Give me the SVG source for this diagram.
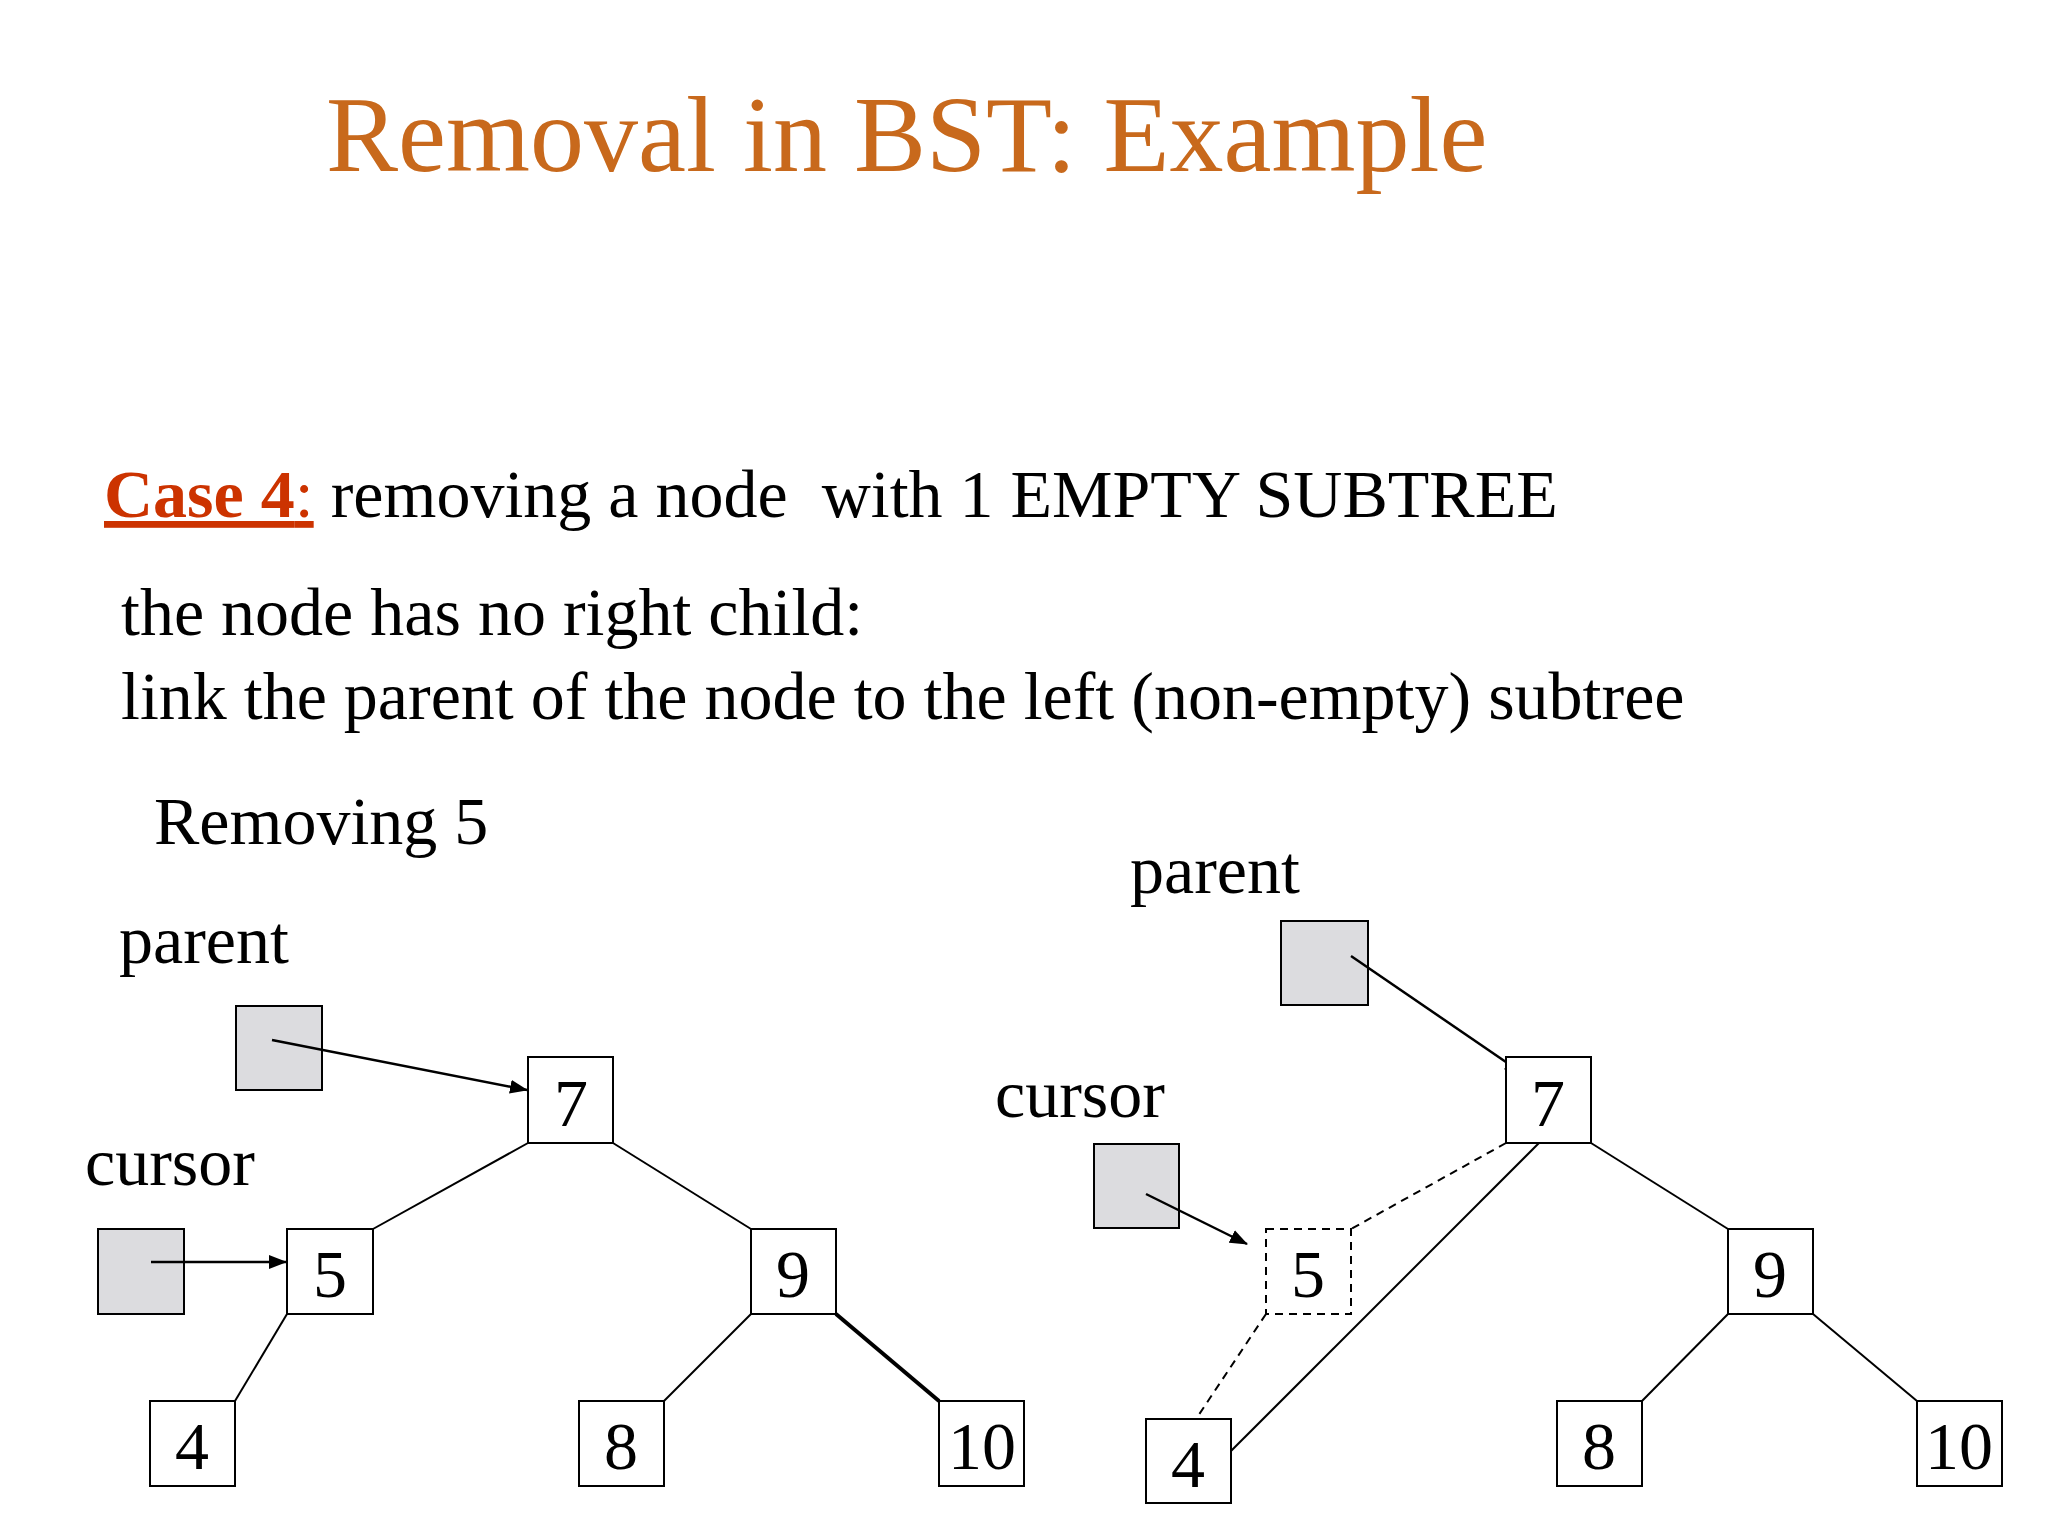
<svg xmlns="http://www.w3.org/2000/svg" width="2048" height="1536" viewBox="0 0 2048 1536">
<defs>
<style>
text{font-family:"Liberation Serif","Times New Roman",serif;fill:#000}
.t{font-size:68px}
.n{font-size:68px;text-anchor:middle}
.box{fill:#fff;stroke:#000;stroke-width:2}
.ptr{fill:#dcdcdf;stroke:#000;stroke-width:2}
.e{stroke:#000;stroke-width:2;fill:none}
.d{stroke:#000;stroke-width:2;fill:none;stroke-dasharray:8,6}
</style>
<marker id="ah" markerWidth="18" markerHeight="14" refX="17" refY="7" orient="auto" markerUnits="userSpaceOnUse" viewBox="0 0 18 14"><path d="M0,0 L18,7 L0,14 z" fill="#000"/></marker>
</defs>
<rect width="2048" height="1536" fill="#fff"/>
<g transform="translate(-4,-6)">
<text x="330" y="177" style="font-size:108px;fill:#C8691C">Removal in BST: Example</text>
<text x="108" y="523" class="t"><tspan style="fill:#CC3300;font-weight:bold;text-decoration:underline">Case 4</tspan><tspan style="fill:#CC3300;text-decoration:underline">:</tspan> removing a node&#160; with 1 EMPTY SUBTREE</text>
<text x="125" y="641" class="t">the node has no right child:</text>
<text x="125" y="725" class="t">link the parent of the node to the left (non-empty) subtree</text>
<text x="158" y="850" class="t">Removing 5</text>
<text x="123" y="969" class="t">parent</text>
<text x="89" y="1191" class="t">cursor</text>
<text x="1134" y="899" class="t">parent</text>
<text x="999" y="1123" class="t">cursor</text>
<g id="L-parent"><rect class="ptr" x="240" y="1012" width="86" height="84"/></g>
<g id="L-cursor"><rect class="ptr" x="102" y="1235" width="86" height="85"/></g>
<g id="R-parent"><rect class="ptr" x="1285" y="927" width="87" height="84"/></g>
<g id="R-cursor"><rect class="ptr" x="1098" y="1150" width="85" height="84"/></g>
<g id="connectors">
<line class="e" x1="276" y1="1046" x2="531" y2="1096" marker-end="url(#ah)" style="stroke-width:2.5"/>
<line class="e" x1="155" y1="1268" x2="290" y2="1268" marker-end="url(#ah)" style="stroke-width:2.5"/>
<line class="e" x1="532" y1="1149" x2="377" y2="1235"/>
<line class="e" x1="617" y1="1149" x2="755" y2="1235"/>
<line class="e" x1="291" y1="1320" x2="239" y2="1407"/>
<line class="e" x1="755" y1="1320" x2="668" y2="1407"/>
<line class="e" x1="840" y1="1320" x2="943" y2="1407" style="stroke-width:4"/>
<line class="e" x1="1355" y1="962" x2="1526" y2="1079" marker-end="url(#ah)" style="stroke-width:2.5"/>
<line class="e" x1="1150" y1="1200" x2="1251" y2="1250" marker-end="url(#ah)" style="stroke-width:2.5"/>
<line class="d" x1="1510" y1="1149" x2="1355" y2="1235"/>
<line class="d" x1="1270" y1="1320" x2="1200" y2="1425"/>
<line class="e" x1="1543" y1="1149" x2="1235" y2="1457"/>
<line class="e" x1="1595" y1="1149" x2="1732" y2="1235"/>
<line class="e" x1="1732" y1="1320" x2="1646" y2="1407"/>
<line class="e" x1="1817" y1="1320" x2="1921" y2="1407"/>
</g>
<g id="L7"><rect class="box" x="532" y="1063" width="85" height="86"/><text class="n" x="575" y="1132">7</text></g>
<g id="L5"><rect class="box" x="291" y="1235" width="86" height="85"/><text class="n" x="334" y="1303">5</text></g>
<g id="L9"><rect class="box" x="755" y="1235" width="85" height="85"/><text class="n" x="797" y="1303">9</text></g>
<g id="L4"><rect class="box" x="154" y="1407" width="85" height="85"/><text class="n" x="196" y="1475">4</text></g>
<g id="L8"><rect class="box" x="583" y="1407" width="85" height="85"/><text class="n" x="625" y="1475">8</text></g>
<g id="L10"><rect class="box" x="943" y="1407" width="85" height="85"/><text class="n" x="986" y="1475">10</text></g>
<g id="R7"><rect class="box" x="1510" y="1063" width="85" height="86"/><text class="n" x="1552" y="1132">7</text></g>
<g id="R5"><rect class="d" x="1270" y="1235" width="85" height="85"/><text class="n" x="1312" y="1303">5</text></g>
<g id="R9"><rect class="box" x="1732" y="1235" width="85" height="85"/><text class="n" x="1774" y="1303">9</text></g>
<g id="R4"><rect class="box" x="1150" y="1425" width="85" height="84"/><text class="n" x="1192" y="1493">4</text></g>
<g id="R8"><rect class="box" x="1561" y="1407" width="85" height="85"/><text class="n" x="1603" y="1475">8</text></g>
<g id="R10"><rect class="box" x="1921" y="1407" width="85" height="85"/><text class="n" x="1963" y="1475">10</text></g>
</g>
</svg>
